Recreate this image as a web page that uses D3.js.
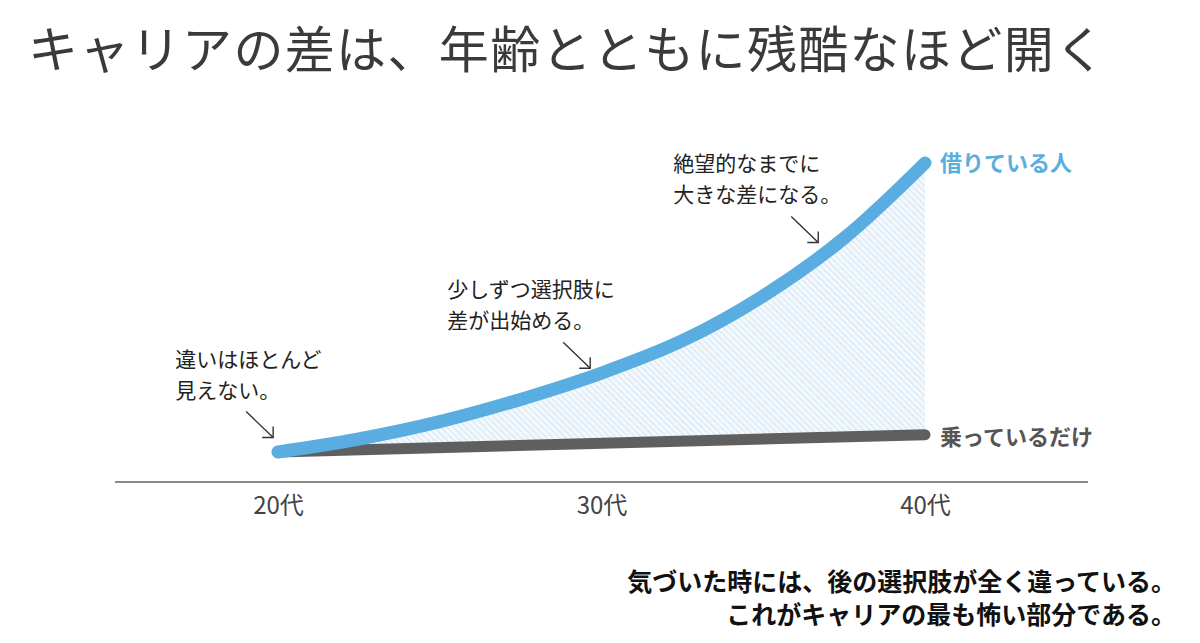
<!DOCTYPE html>
<html>
<head>
<meta charset="utf-8">
<script src="https://cdn.jsdelivr.net/npm/d3@7"></script>
<style>
  body { margin: 0; background: #fff; }
  svg { display: block; font-family: "Noto Sans CJK JP", "Noto Sans", sans-serif; }
</style>
</head>
<body>
<div id="chart"></div>
<script>
const width = 1200;
const height = 643;

// 年代（x軸）
const tickAges = [20, 30, 40];
const tickLabels = ["20代", "30代", "40代"];

// 借りている人（青）
const blueAges = [20, 22.5, 25, 27.5, 30, 32.5, 35, 37.5, 40];
const blueValues = [0, 4.5, 10.5, 18.2, 27.3, 38.5, 54, 74, 100];

// 乗っているだけ（灰）
const grayAges = [20, 40];
const grayValues = [0, 6];

// 注釈
const noteLines = [
  ["違いはほとんど", "見えない。"],
  ["少しずつ選択肢に", "差が出始める。"],
  ["絶望的なまでに", "大きな差になる。"]
];
const noteAges = [19.85, 29.65, 36.7];
const noteValues = [5, 29, 72.5];
const noteShift = [-98, -143, -145];

const seriesNames = ["借りている人", "乗っているだけ"];
const title = "キャリアの差は、年齢とともに残酷なほど開く";
const footer = ["気づいた時には、後の選択肢が全く違っている。", "これがキャリアの最も怖い部分である。"];

const svg = d3.select("#chart").append("svg")
  .attr("width", width)
  .attr("height", height);

const x = d3.scaleLinear().domain([20, 40]).range([278, 925]);
const y = d3.scaleLinear().domain([0, 100]).range([452, 163]);
const grayAt = d3.scaleLinear().domain(grayAges).range(grayValues);

// 斜線パターン
const defs = svg.append("defs");
const pat = defs.append("pattern")
  .attr("id", "hatch")
  .attr("patternUnits", "userSpaceOnUse")
  .attr("width", 4.5)
  .attr("height", 4.5)
  .attr("patternTransform", "rotate(-45)");
pat.append("rect").attr("width", 4.5).attr("height", 4.5).attr("fill", "#f3f8fc");
pat.append("line")
  .attr("x1", 0).attr("y1", 0).attr("x2", 0).attr("y2", 4.5)
  .attr("stroke", "#cfe4f3").attr("stroke-width", 1.8);

// タイトル
svg.append("text")
  .attr("x", 28)
  .attr("y", 68)
  .attr("font-size", 50)
  .attr("fill", "#3a3a3a")
  .attr("textLength", 1077)
  .attr("lengthAdjust", "spacing")
  .text(title);

// x軸
const xAxis = svg.append("g")
  .attr("transform", "translate(0,482)")
  .call(d3.axisBottom(x).tickValues(tickAges).tickSize(0).tickPadding(15)
    .tickFormat((d, i) => tickLabels[i]));
xAxis.select(".domain").remove();
xAxis.selectAll("text")
  .attr("font-size", 24)
  .attr("font-family", "Noto Sans CJK JP")
  .attr("fill", "#444");
xAxis.append("line")
  .attr("x1", 115).attr("x2", 1088)
  .attr("stroke", "#8a8a8a").attr("stroke-width", 2);

// 差の領域
const blueData = blueAges.map((a, i) => ({ age: a, value: blueValues[i] }));
const grayData = grayAges.map((a, i) => ({ age: a, value: grayValues[i] }));
const curve = d3.curveCatmullRom.alpha(0.5);

svg.append("path")
  .datum(blueData)
  .attr("fill", "url(#hatch)")
  .attr("d", d3.area()
    .x(d => x(d.age))
    .y0(d => y(grayAt(d.age)))
    .y1(d => y(d.value))
    .curve(curve));

// 灰の線
svg.append("path")
  .datum(grayData)
  .attr("fill", "none")
  .attr("stroke", "#5f5f5f")
  .attr("stroke-width", 11)
  .attr("stroke-linecap", "round")
  .attr("d", d3.line().x(d => x(d.age)).y(d => y(d.value)));

// 青の線
svg.append("path")
  .datum(blueData)
  .attr("fill", "none")
  .attr("stroke", "#5aade0")
  .attr("stroke-width", 13)
  .attr("stroke-linecap", "round")
  .attr("d", d3.line().x(d => x(d.age)).y(d => y(d.value)).curve(curve));

// 系列ラベル
svg.append("text")
  .attr("x", x(40) + 15)
  .attr("y", y(blueValues[blueValues.length - 1]) + 8)
  .attr("font-size", 22)
  .attr("font-weight", "bold")
  .attr("fill", "#5aaedc")
  .text(seriesNames[0]);
svg.append("text")
  .attr("x", x(40) + 15)
  .attr("y", y(grayValues[grayValues.length - 1]) + 10)
  .attr("font-size", 22)
  .attr("font-weight", "bold")
  .attr("fill", "#555")
  .text(seriesNames[1]);

// 注釈と矢印
noteLines.forEach((lines, i) => {
  const ex = x(noteAges[i]);
  const ey = y(noteValues[i]);
  const g = svg.append("g");
  g.append("line")
    .attr("x1", ex - 27).attr("y1", ey - 26)
    .attr("x2", ex).attr("y2", ey)
    .attr("stroke", "#333").attr("stroke-width", 1.4);
  g.append("path")
    .attr("d", `M${ex - 11},${ey} L${ex},${ey} L${ex},${ey - 11}`)
    .attr("fill", "none")
    .attr("stroke", "#333").attr("stroke-width", 1.4);
  const tx = ex + noteShift[i];
  lines.forEach((t, j) => {
    g.append("text")
      .attr("x", tx)
      .attr("y", ey - 71 + j * 31)
      .attr("font-size", 21)
      .attr("fill", "#222")
      .text(t);
  });
});

// 下部メッセージ
footer.forEach((t, i) => {
  svg.append("text")
    .attr("x", 1176)
    .attr("y", 591 + i * 33)
    .attr("text-anchor", "end")
    .attr("font-size", 25)
    .attr("font-weight", "bold")
    .attr("fill", "#111")
    .text(t);
});
</script>
</body>
</html>
